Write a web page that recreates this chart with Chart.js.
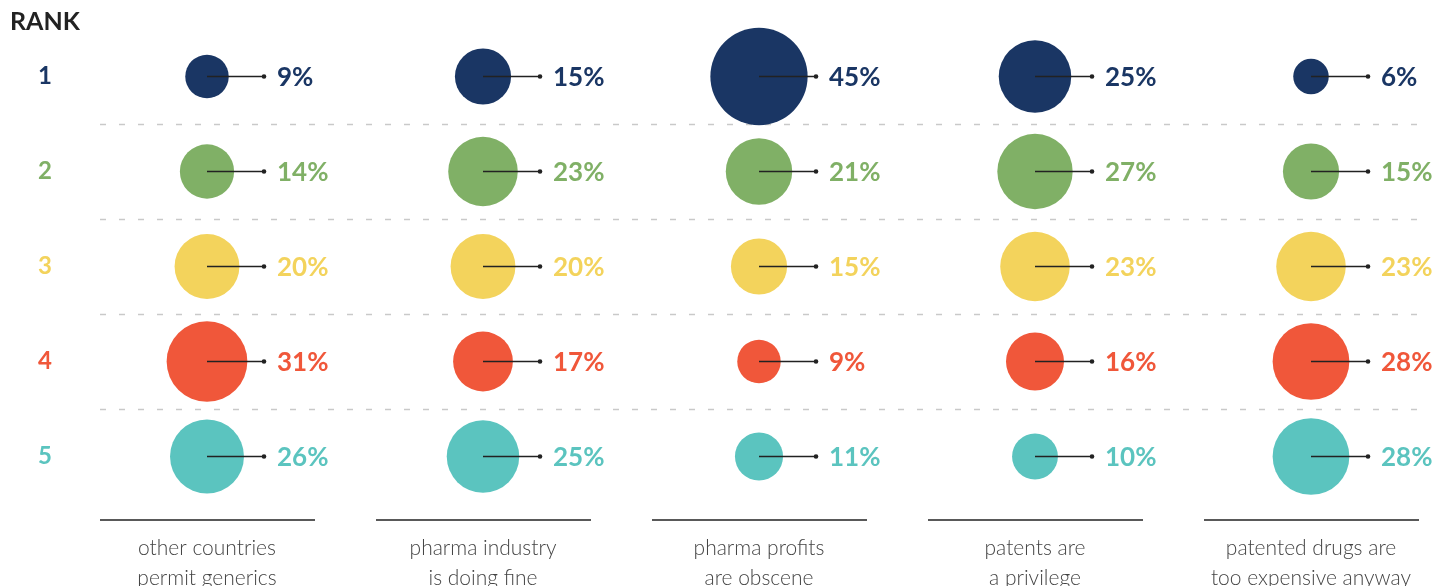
<!DOCTYPE html>
<html lang="en">
<head>
    <meta charset="UTF-8">
    <title>Rank by argument</title>
    <script src="https://cdn.jsdelivr.net/npm/chart.js"></script>
    <style>
        body { margin: 0; background: #fff; }
        #wrap { width: 1432px; height: 586px; position: relative; }
    </style>
</head>
<body>
    <div id="wrap"><canvas id="rankChart"></canvas></div>

    <script>
        // Data
        const categories = [
            ['other countries', 'permit generics'],
            ['pharma industry', 'is doing fine'],
            ['pharma profits', 'are obscene'],
            ['patents are', 'a privilege'],
            ['patented drugs are', 'too expensive anyway']
        ];
        const ranks = ['1', '2', '3', '4', '5'];
        const rank1 = [9, 15, 45, 25, 6];
        const rank2 = [14, 23, 21, 27, 15];
        const rank3 = [20, 20, 15, 23, 23];
        const rank4 = [31, 17, 9, 16, 28];
        const rank5 = [26, 25, 11, 10, 28];
        const rankValues = [rank1, rank2, rank3, rank4, rank5];
        const rankColors = ['#1a3664', '#80b066', '#f3d35c', '#f0573a', '#5bc4bf'];

        // bubble area proportional to the share
        const radiusFor = v => 7.25 * Math.sqrt(v);

        const datasets = rankValues.map((vals, r) => ({
            label: 'Rank ' + ranks[r],
            data: vals.map((v, c) => ({ x: c, y: r + 1, r: radiusFor(v), v: v })),
            backgroundColor: rankColors[r],
            borderWidth: 0,
            clip: false
        }));

        const decor = {
            id: 'decor',
            beforeDatasetsDraw(chart) {
                const { ctx, chartArea, scales } = chart;
                ctx.save();
                // dashed separators between rank rows
                ctx.strokeStyle = '#c9c9c9';
                ctx.lineWidth = 1.5;
                ctx.setLineDash([6, 13]);
                for (let i = 1; i < ranks.length; i++) {
                    const y = Math.round(scales.y.getPixelForValue(i + 0.5)) + 0.5;
                    ctx.beginPath();
                    ctx.moveTo(chartArea.left, y);
                    ctx.lineTo(chartArea.right, y);
                    ctx.stroke();
                }
                ctx.setLineDash([]);
                // short base line under each column
                ctx.strokeStyle = '#222';
                ctx.lineWidth = 1.4;
                const yb = chartArea.bottom + 16;
                categories.forEach((c, i) => {
                    const x = scales.x.getPixelForValue(i);
                    ctx.beginPath();
                    ctx.moveTo(x - 107, yb);
                    ctx.lineTo(x + 108, yb);
                    ctx.stroke();
                });
                // header
                ctx.fillStyle = '#222';
                ctx.font = 'bold 25px Lato';
                ctx.textBaseline = 'middle';
                ctx.textAlign = 'left';
                ctx.fillText('RANK', 10, 22);
                ctx.restore();
            },
            afterDatasetsDraw(chart) {
                const { ctx } = chart;
                ctx.save();
                chart.data.datasets.forEach((ds, di) => {
                    const meta = chart.getDatasetMeta(di);
                    meta.data.forEach((el, i) => {
                        const x = el.x, y = el.y;
                        ctx.strokeStyle = '#222';
                        ctx.lineWidth = 1.6;
                        ctx.beginPath();
                        ctx.moveTo(x, y);
                        ctx.lineTo(x + 57, y);
                        ctx.stroke();
                        ctx.fillStyle = '#222';
                        ctx.beginPath();
                        ctx.arc(x + 57, y, 2.3, 0, Math.PI * 2);
                        ctx.fill();
                        ctx.fillStyle = ds.backgroundColor;
                        ctx.font = 'bold 26px Lato';
                        ctx.textAlign = 'left';
                        ctx.textBaseline = 'middle';
                        ctx.fillText(ds.data[i].v + '%', x + 70, y + 1);
                    });
                });
                ctx.restore();
            }
        };

        const noPad = axis => {
            axis.paddingTop = 0;
            axis.paddingBottom = 0;
            axis.paddingLeft = 0;
            axis.paddingRight = 0;
        };

        const ctx = document.getElementById('rankChart').getContext('2d');
        new Chart(ctx, {
            type: 'bubble',
            data: { datasets: datasets },
            options: {
                responsive: true,
                maintainAspectRatio: false,
                animation: false,
                events: [],
                layout: { autoPadding: false, padding: { top: 29, right: 12, left: 0, bottom: 0 } },
                plugins: {
                    legend: { display: false },
                    tooltip: { enabled: false }
                },
                scales: {
                    x: {
                        type: 'linear',
                        min: -107 / 276,
                        max: 1213 / 276,
                        grid: { display: false },
                        border: { display: false },
                        afterBuildTicks: axis => { axis.ticks = categories.map((c, i) => ({ value: i })); },
                        afterFit: axis => { axis.height = 82; noPad(axis); },
                        ticks: {
                            padding: 22,
                            maxRotation: 0,
                            autoSkip: false,
                            color: '#444',
                            font: { family: 'Lato', size: 21, weight: '300', lineHeight: 1.4 },
                            callback: v => categories[v]
                        }
                    },
                    y: {
                        type: 'linear',
                        reverse: true,
                        min: 0.5,
                        max: 5.5,
                        grid: { display: false },
                        border: { display: false },
                        afterBuildTicks: axis => { axis.ticks = ranks.map((r, i) => ({ value: i + 1 })); },
                        afterFit: axis => { axis.width = 100; noPad(axis); },
                        ticks: {
                            padding: 40,
                            crossAlign: 'center',
                            color: c => rankColors[c.index],
                            font: { family: 'Lato', size: 24, weight: 'bold' },
                            callback: v => ranks[v - 1]
                        }
                    }
                }
            },
            plugins: [decor]
        });
    </script>
</body>
</html>
